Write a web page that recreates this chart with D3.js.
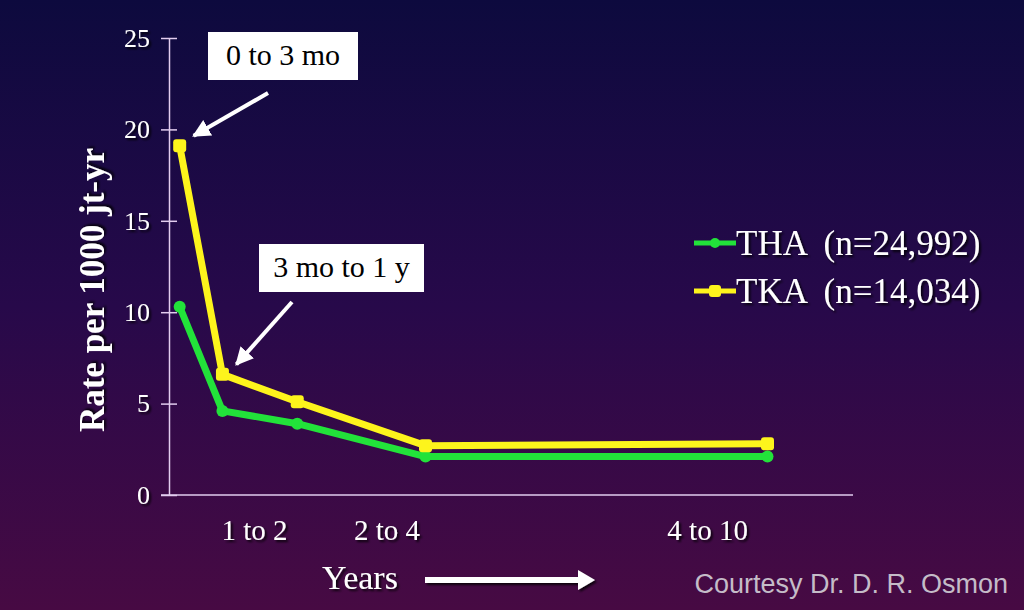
<!DOCTYPE html>
<html><head><meta charset="utf-8">
<script src="https://cdn.jsdelivr.net/npm/d3@7/dist/d3.min.js"></script>
<style>
html,body{margin:0;padding:0;background:#1a0a45;}
svg{display:block;}
</style></head>
<body>
<svg id="chart" width="1024" height="610"></svg>
<script>
// ---- data ----
const periods = ["0 to 3 mo", "3 mo to 1 y", "1 to 2", "2 to 4", "4 to 10"];
const periodMidYears = [0.125, 0.625, 1.5, 3, 7];
const thaValues = [10.3, 4.6, 3.9, 2.1, 2.1];
const tkaValues = [19.1, 6.6, 5.1, 2.7, 2.8];
const yTicks = [0, 5, 10, 15, 20, 25];
const xLabels = ["1 to 2", "2 to 4", "4 to 10"];
const xLabelYears = [1.0, 2.55, 6.3];
const seriesNames = ["THA  (n=24,992)", "TKA  (n=14,034)"];

const W = 1024, H = 610;
const svg = d3.select("#chart");
const defs = svg.append("defs");
const grad = defs.append("linearGradient").attr("id","bg").attr("x1",0).attr("y1",0).attr("x2",0).attr("y2",1);
grad.append("stop").attr("offset","0%").attr("stop-color","#0d0a3e");
grad.append("stop").attr("offset","50%").attr("stop-color","#27094a");
grad.append("stop").attr("offset","100%").attr("stop-color","#470a43");
svg.append("rect").attr("width",W).attr("height",H).attr("fill","url(#bg)");

const shadow = defs.append("filter").attr("id","sh").attr("x","-10%").attr("y","-10%").attr("width","130%").attr("height","130%");
shadow.append("feDropShadow").attr("dx",2).attr("dy",2).attr("stdDeviation",1).attr("flood-color","#000").attr("flood-opacity",0.8);

const mk = defs.append("marker").attr("id","arr").attr("viewBox","0 0 10 10").attr("refX",9).attr("refY",5)
  .attr("markerWidth",4.5).attr("markerHeight",4.5).attr("orient","auto").attr("markerUnits","strokeWidth");
mk.append("path").attr("d","M0,0 L10,5 L0,10 z").attr("fill","#fff");

const x = d3.scaleLinear().domain([0, 8]).range([169, 853]);
const y = d3.scaleLinear().domain([0, 25]).range([495, 38]);
const axisColor = "#e2cdef";
const serif = "'Liberation Serif', 'DejaVu Serif', serif";

// y axis
const yAxis = svg.append("g").attr("transform","translate(169,0)")
  .call(d3.axisLeft(y).tickValues(yTicks).tickSizeInner(0).tickSizeOuter(0).tickPadding(19));
yAxis.select(".domain").attr("stroke",axisColor).attr("stroke-width",1.5);
yAxis.selectAll(".tick line").remove();
yAxis.selectAll(".tick").append("line").attr("x1",-8).attr("x2",8).attr("stroke",axisColor).attr("stroke-width",1.5);
yAxis.selectAll(".tick text").attr("fill","#fff").style("font-family",serif).style("font-size","26px").attr("dy","0.32em").attr("filter","url(#sh)");

// x axis
const xAxis = svg.append("g").attr("transform","translate(0,495)")
  .call(d3.axisBottom(x).tickValues([]).tickSizeOuter(0));
xAxis.select(".domain").attr("stroke",axisColor).attr("stroke-width",1.5).attr("d","M161,0H853");

svg.append("g").selectAll("text").data(xLabels).join("text")
  .attr("x",(d,i)=>x(xLabelYears[i])).attr("y",540).attr("text-anchor","middle")
  .attr("fill","#fff").style("font-family",serif).style("font-size","29px").attr("filter","url(#sh)")
  .text(d=>d);

// y label
svg.append("text").attr("transform","translate(104,290) rotate(-90)").attr("text-anchor","middle")
  .attr("fill","#fff").style("font-family",serif).style("font-size","35px").style("font-weight","bold")
  .attr("filter","url(#sh)").text("Rate per 1000 jt-yr");

// lines
const line = d3.line().x((d,i)=>x(periodMidYears[i])).y(d=>y(d));
const series = [
  {name: seriesNames[0], values: thaValues, color:"#22e23a", shape:"circle"},
  {name: seriesNames[1], values: tkaValues, color:"#fdf41c", shape:"square"}
];
series.forEach(s=>{
  svg.append("path").attr("d",line(s.values)).attr("fill","none").attr("stroke",s.color)
    .attr("stroke-width",7).attr("stroke-linejoin","round");
  const g = svg.append("g");
  if (s.shape==="circle") {
    g.selectAll("circle").data(s.values).join("circle")
      .attr("cx",(d,i)=>x(periodMidYears[i])).attr("cy",d=>y(d)).attr("r",6).attr("fill",s.color);
  } else {
    g.selectAll("rect").data(s.values).join("rect")
      .attr("x",(d,i)=>x(periodMidYears[i])-6.5).attr("y",d=>y(d)-6.5).attr("width",13).attr("height",13)
      .attr("rx",3).attr("fill",s.color);
  }
});

// annotations
function annot(label, bx, by, bw, bh, fromX, fromY, ptIdx, val) {
  svg.append("rect").attr("x",bx).attr("y",by).attr("width",bw).attr("height",bh).attr("fill","#fff");
  svg.append("text").attr("x",bx+bw/2).attr("y",by+bh/2+9).attr("text-anchor","middle")
    .attr("fill","#000").style("font-family",serif).style("font-size","30px").text(label);
  svg.append("line").attr("x1",fromX).attr("y1",fromY)
    .attr("x2",x(periodMidYears[ptIdx])+14).attr("y2",y(val)-10)
    .attr("stroke","#fff").attr("stroke-width",4).attr("marker-end","url(#arr)");
}
annot(periods[0], 208, 32, 150, 48, 268, 93, 0, tkaValues[0]);
annot(periods[1], 259, 244, 165, 48, 292, 302, 1, tkaValues[1]);

// legend
const leg = svg.append("g");
series.forEach((s,i)=>{
  const ly = 243 + i*48;
  leg.append("line").attr("x1",694).attr("x2",736).attr("y1",ly).attr("y2",ly).attr("stroke",s.color).attr("stroke-width",5);
  if (s.shape==="circle") leg.append("circle").attr("cx",715).attr("cy",ly).attr("r",5).attr("fill",s.color);
  else leg.append("rect").attr("x",709).attr("y",ly-6).attr("width",12).attr("height",12).attr("rx",3).attr("fill",s.color);
  leg.append("text").attr("x",736).attr("y",ly+12).attr("fill","#fff").attr("filter","url(#sh)")
    .style("font-family",serif).style("font-size","35px").attr("xml:space","preserve").style("white-space","pre").text(s.name);
});

// Years + arrow
svg.append("text").attr("x",322).attr("y",589).attr("fill","#fff").attr("filter","url(#sh)")
  .style("font-family",serif).style("font-size","34px").text("Years");
svg.append("path").attr("d","M425,577 H578 V570 L595,580 L578,590 V583 H425 Z")
  .attr("fill","#fff").attr("filter","url(#sh)");

svg.append("text").attr("x",1008).attr("y",593).attr("text-anchor","end").attr("fill","#c4bcc8")
  .style("font-family","'Liberation Sans', Arial, sans-serif").style("font-size","27px").text("Courtesy Dr. D. R. Osmon");
</script>
</body></html>
